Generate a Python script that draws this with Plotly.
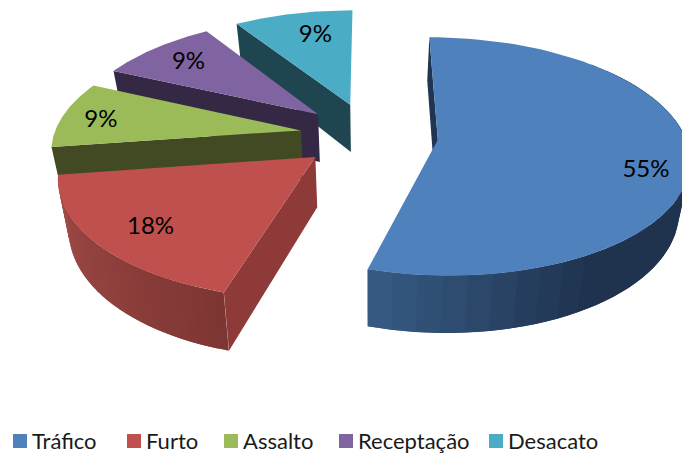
import numpy as np
import plotly.graph_objects as go

categories = ["Tráfico", "Furto", "Assalto", "Receptação", "Desacato"]
values = [6, 2, 1, 1, 1]
top_colors = ["#4f81bd", "#c0504d", "#9bbb59", "#8064a2", "#4bacc6"]
face_colors = ["#1f3552", "#8e3a38", "#414a22", "#352845", "#1f4650"]
legend_left = [13, 127, 224, 339, 489]
label_nudge_x = [2, 10, -5, 6, 13]
label_nudge_y = [17, 0, 4, 4, 7]
# wall shading: (angle in degrees, rgb)
wall_shades = {
    0: [(45, (32, 52, 80)), (150, (31, 51, 78)), (196.4, (56, 92, 133))],
    1: [(196.4, (126, 54, 52)), (262, (164, 76, 72))],
}

W, H = 682, 453
XC, YC = 369.0, 135.0
RX, RY = 247.0, 115.5
PERSP = 0.14
EXPLODE = 0.28
DEPTH = 49.0
X_SHRINK = 0.965
LABEL_R = 0.82
LEGEND_Y = 440

shares = np.array(values, float) / sum(values)
edges = np.concatenate([[0], np.cumsum(shares) * 360])


def project(theta_deg, r, mid_deg, below=False):
    t = np.radians(theta_deg)
    m = np.radians(mid_deg)
    x = EXPLODE * np.sin(m) + r * np.sin(t)
    v = EXPLODE * 1.01 * np.cos(m) + r * np.cos(t)
    s = 1.0 / (1.0 + PERSP * v)
    px = XC + RX * x * s * (X_SHRINK if below else 1.0)
    py = YC - RY * v * s + (DEPTH * s if below else 0.0)
    return px, py


def poly(fig, xs, ys, color):
    fig.add_trace(go.Scatter(
        x=list(xs) + [xs[0]], y=list(ys) + [ys[0]], mode="lines", fill="toself",
        fillcolor=color, line=dict(color=color, width=0),
        showlegend=False, hoverinfo="skip"))


def shade(i, th):
    a = wall_shades[i]
    ang = [p[0] for p in a]
    rgb = [np.interp(th, ang, [p[1][k] for p in a]) for k in range(3)]
    return "rgb(%d,%d,%d)" % tuple(rgb)


fig = go.Figure()

# painter's order: back slices first
for i in [4, 3, 2, 1, 0]:
    a0, a1 = edges[i], edges[i + 1]
    mid = (a0 + a1) / 2

    # outer wall, in overlapping strips so no seams show
    if i in wall_shades:
        lo = max(a0, wall_shades[i][0][0])
        n = 30
        th = np.linspace(lo, a1, n + 1)
        step = th[1] - th[0]
        for j in range(n):
            q0 = th[j]
            q1 = min(th[j + 1] + step, a1)
            arc = np.linspace(q0, q1, 5)
            tops = [project(a, 1, mid) for a in arc]
            bots = [project(a, 1, mid, True) for a in arc[::-1]]
            poly(fig, [p[0] for p in tops + bots], [p[1] for p in tops + bots],
                 shade(i, (th[j] + th[j + 1]) / 2))

    # radial cut face on the slice's start edge
    p_top_c = project(a0, 0, mid)
    p_top_e = project(a0, 1, mid)
    p_bot_e = project(a0, 1, mid, True)
    p_bot_c = project(a0, 0, mid, True)
    poly(fig,
         [p_top_c[0], p_top_e[0], p_bot_e[0], p_bot_c[0]],
         [p_top_c[1], p_top_e[1], p_bot_e[1], p_bot_c[1]],
         face_colors[i])

    # top surface
    th = np.linspace(a0, a1, 80)
    pts = [project(a, 1, mid) for a in th]
    c = project(a0, 0, mid)
    poly(fig, [c[0]] + [p[0] for p in pts], [c[1]] + [p[1] for p in pts], top_colors[i])

# percentage labels
lx, ly, lt = [], [], []
for i in range(len(values)):
    mid = (edges[i] + edges[i + 1]) / 2
    p = project(mid, LABEL_R, mid)
    lx.append(p[0] + label_nudge_x[i]); ly.append(p[1] + label_nudge_y[i])
    lt.append(f"{round(shares[i] * 100)}%")
fig.add_trace(go.Scatter(x=lx, y=ly, text=lt, mode="text", textposition="middle center",
                         textfont=dict(family="Lato", size=24, color="black"),
                         showlegend=False, hoverinfo="skip", cliponaxis=False))

# legend row
for name, col, x0 in zip(categories, top_colors, legend_left):
    fig.add_trace(go.Scatter(x=[x0 + 7], y=[441], mode="markers", name=name,
                             marker=dict(symbol="square", size=14, color=col, line=dict(width=0)),
                             showlegend=False, hoverinfo="skip"))
    fig.add_annotation(x=x0 + 17, y=LEGEND_Y, text=name, xanchor="left", yanchor="middle",
                       showarrow=False, font=dict(family="Lato", size=22, color="#1a1a1a"))

fig.update_layout(
    width=W, height=H, margin=dict(l=0, r=0, t=0, b=0),
    paper_bgcolor="white", plot_bgcolor="white",
    xaxis=dict(range=[0, W], visible=False, fixedrange=True),
    yaxis=dict(range=[H, 0], visible=False, fixedrange=True),
    showlegend=False,
)
fig.write_html("out.html", config={"displayModeBar": False},
               post_script="document.body.style.margin='0';document.body.style.overflow='hidden';")
